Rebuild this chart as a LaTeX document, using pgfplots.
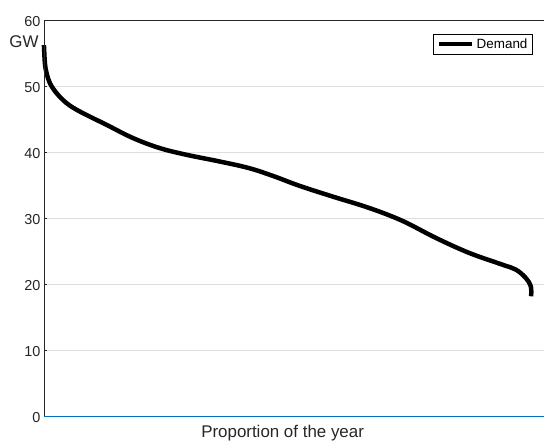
\documentclass[border=0pt]{standalone}
\usepackage{pgfplots}
\pgfplotsset{compat=1.18}
\usepackage{fontspec}
\setmainfont{Liberation Sans}
\definecolor{mblue}{rgb}{0,0.447,0.741}
\definecolor{axgray}{HTML}{262626}
\begin{document}
\begin{tikzpicture}
\begin{axis}[
  scale only axis, width=501bp, height=397bp,
  xmin=0, xmax=1.027, ymin=0, ymax=60,
  ytick={0,10,...,60}, xtick=\empty,
  ymajorgrids, grid style={draw=black!13, line width=0.6bp},
  axis line style={draw=none},
  tick style={draw=axgray, line width=0.5bp}, major tick length=3bp, tick align=inside, ytick pos=left,
  yticklabel style={font=\fontsize{14.5}{14.5}\selectfont, text=axgray, yshift=-1.5bp},
  /pgf/number format/assume math mode=true,
  legend style={at={(0.976,0.965)}, anchor=north east, font=\fontsize{13.5}{13.5}\selectfont, draw=black, line width=0.6bp, inner sep=2.5bp},
  legend image code/.code={\draw[#1] (0bp,0bp) -- (34bp,0bp);},
  legend cell align=left,
  clip=false,
]
\addplot[mblue, line width=1.5bp, forget plot] coordinates {(0,0) (1.027,0)};
\addplot[black, line width=4.5bp, smooth, tension=0.6, line join=round] coordinates {
(0,56.2) (0.002,53.45) (0.0055,51.94) (0.0123,50.43) (0.026,48.92) (0.0465,47.41)
(0.0738,46.14) (0.1285,44.13) (0.183,42.12) (0.2377,40.61) (0.2924,39.60)
(0.3607,38.58) (0.42,37.6) (0.47,36.4) (0.5246,34.9)
(0.592,33.29) (0.668,31.54) (0.7357,29.6) (0.8047,27.01)
(0.873,24.74) (0.941,22.97) (0.9686,22.22) (0.989,20.96) (0.9994,19.69) (1.0,18.18)
};
\addlegendentry{Demand}
\draw[axgray, line width=0.6bp] (rel axis cs:0,0) -- (rel axis cs:0,1) -- (rel axis cs:1,1);
\node[xshift=-20bp, yshift=-22bp, font=\fontsize{17}{17}\selectfont, text=axgray] at (rel axis cs:0,1) {GW};
\node[xshift=-11.5bp, yshift=-17bp, font=\fontsize{17}{17}\selectfont, text=axgray] at (rel axis cs:0.5,0) {Proportion of the year};
\path (rel axis cs:0,0) ++(-44bp,-28bp);
\path (rel axis cs:1,1) ++(0,20bp);
\end{axis}
\end{tikzpicture}
\end{document}
